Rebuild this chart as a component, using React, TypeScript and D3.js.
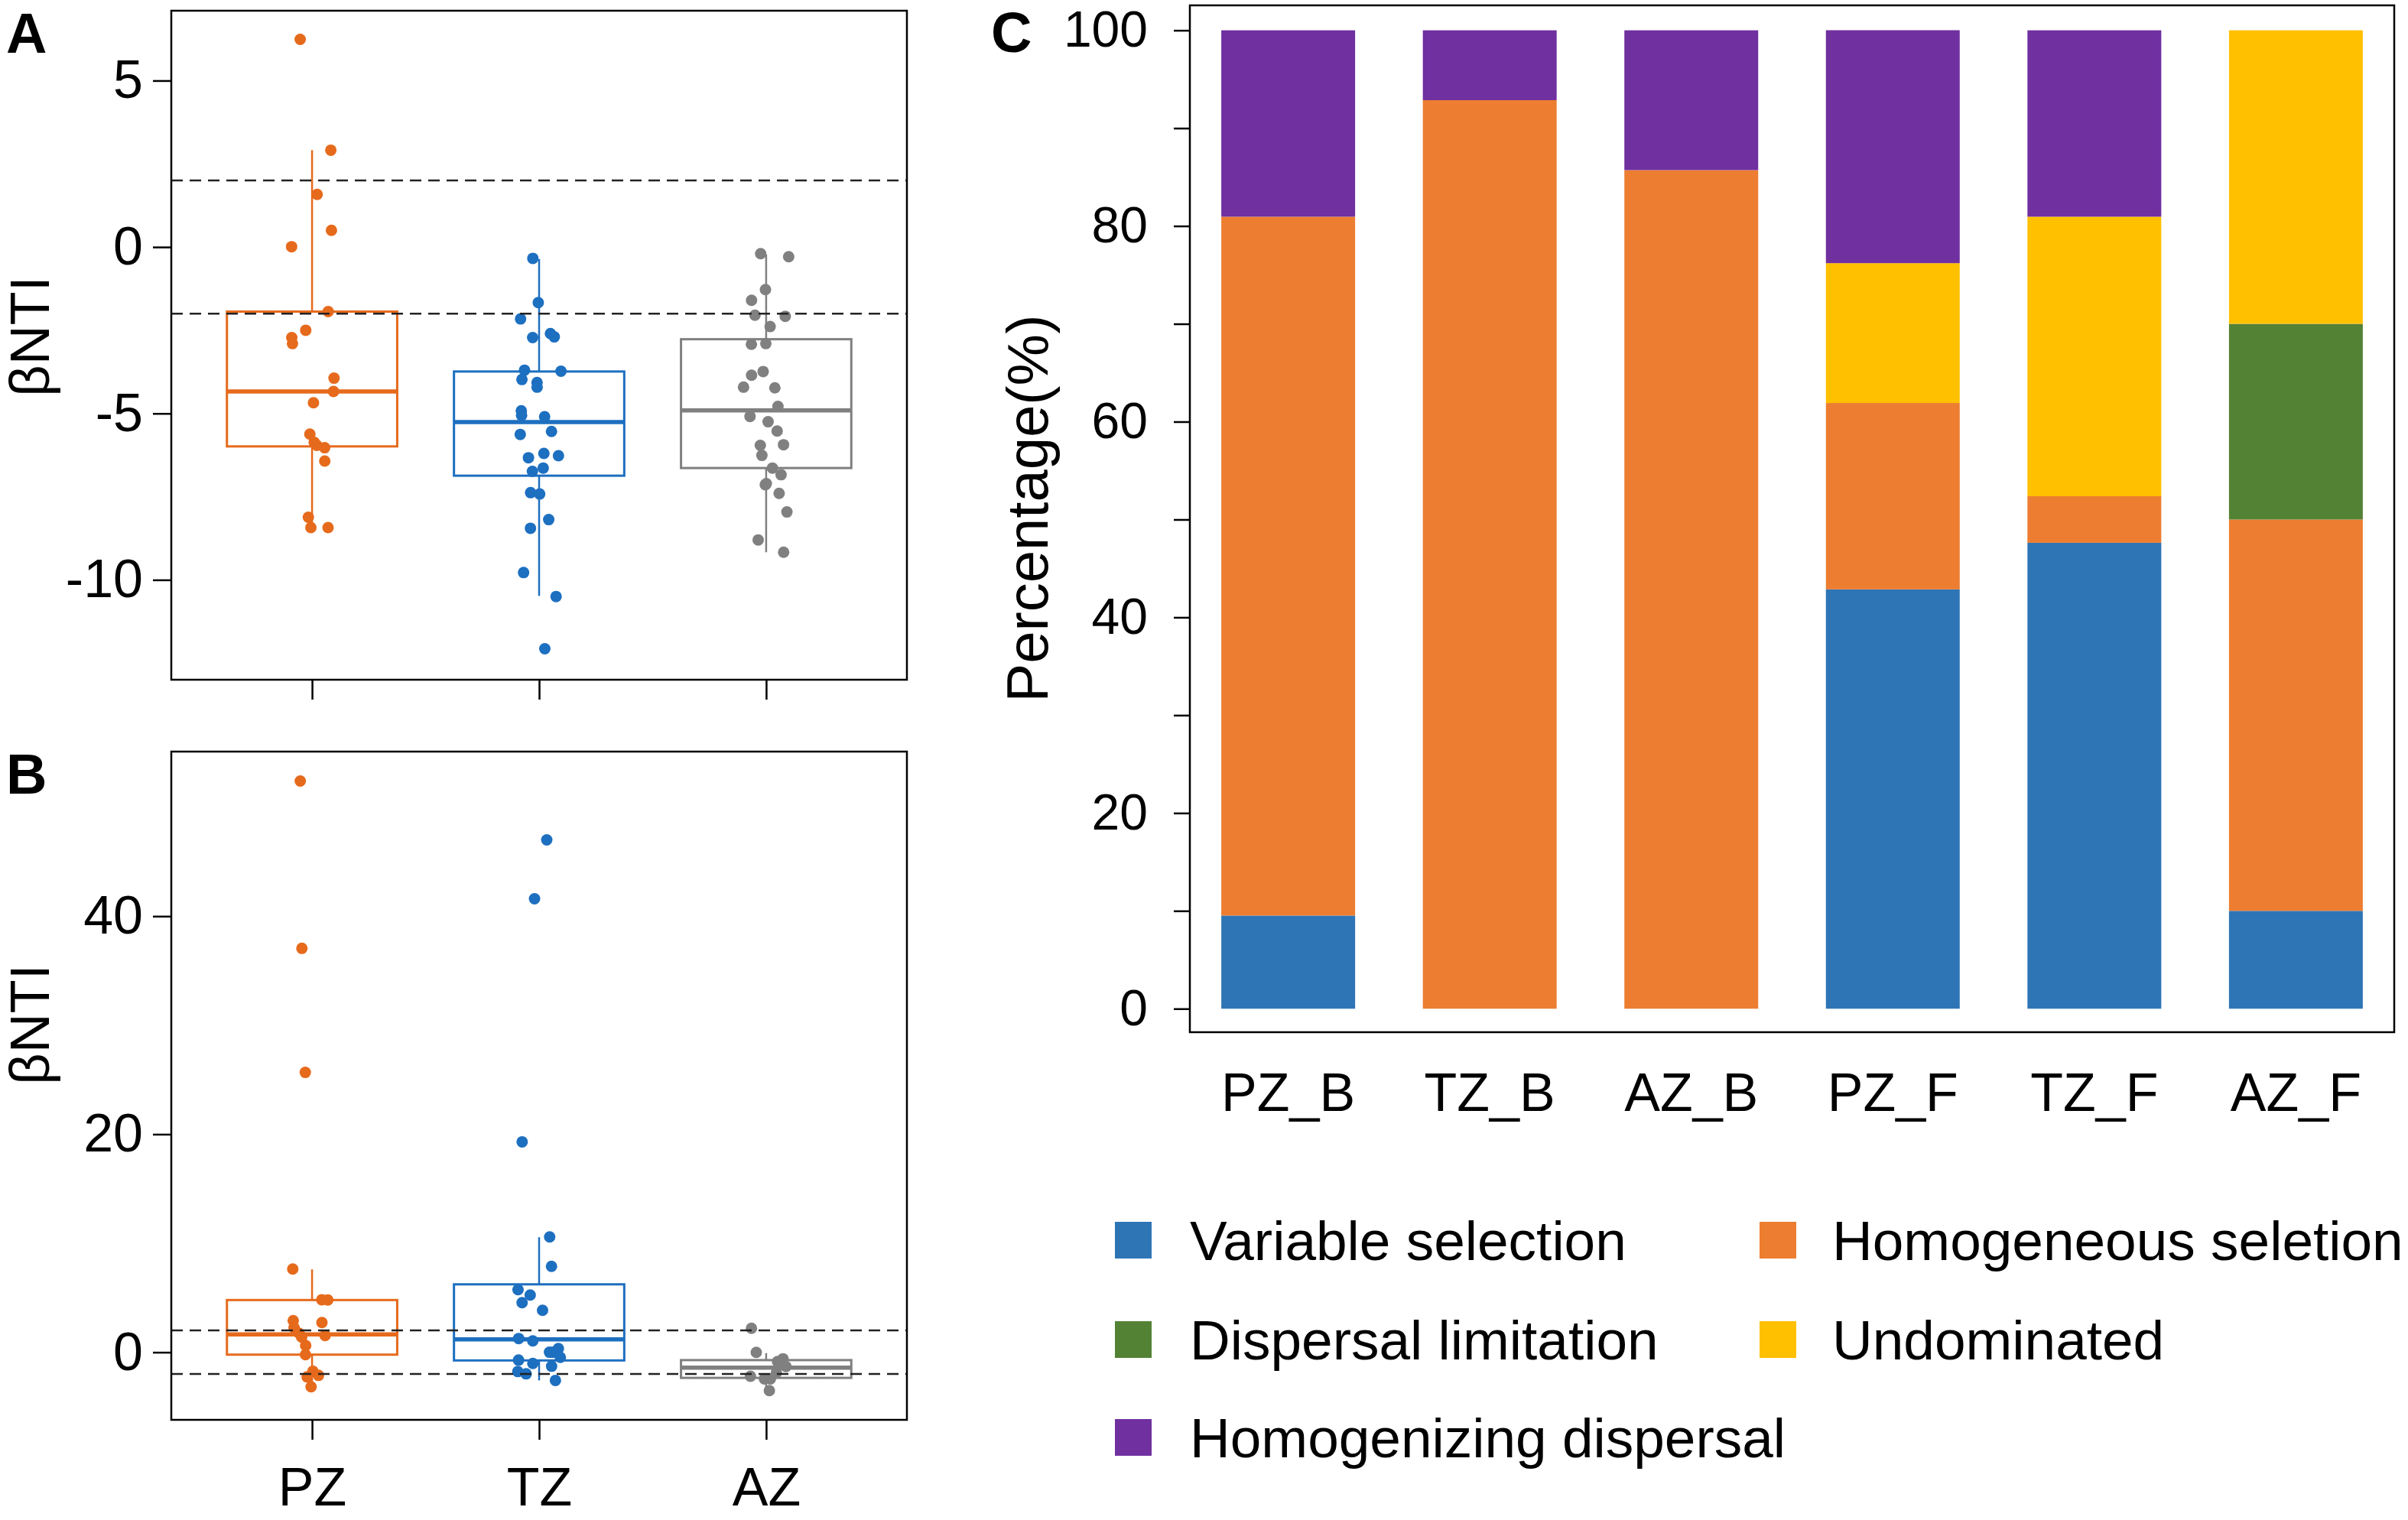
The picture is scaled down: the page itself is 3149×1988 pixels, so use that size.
import React, { useRef, useEffect } from "react";
import * as d3 from "d3";

const FONT = "'Liberation Sans', Arial, Helvetica, sans-serif";

// ---- panels A / B : betaNTI per zone ----
const zones = ["PZ", "TZ", "AZ"];
const zoneColors = ["#E66A1C", "#1D6FC0", "#808080"];

// A (bacteria) observations
const bacteriaPZ = [6.24, 2.91, 1.58, 0.5, 0.01, -1.94, -2.5, -2.72, -2.9, -3.94, -4.34, -4.68, -5.62, -5.87, -5.96, -6.03, -6.43, -8.12, -8.43, -8.43];
const bacteriaTZ = [-0.34, -1.67, -2.16, -2.6, -2.7, -2.72, -3.7, -3.73, -3.98, -4.07, -4.21, -4.92, -5.06, -5.1, -5.54, -5.63, -6.2, -6.27, -6.33, -6.64, -6.74, -7.38, -7.42, -8.19, -8.45, -9.78, -10.5, -12.07];
const bacteriaAZ = [-0.2, -0.29, -1.28, -1.6, -2.05, -2.08, -2.39, -2.9, -2.92, -3.74, -3.85, -4.21, -4.23, -4.79, -5.09, -5.25, -5.53, -5.94, -5.96, -6.26, -6.64, -6.84, -7.11, -7.14, -7.4, -7.96, -8.8, -9.17];
// box stats: [whisker low, Q1, median, Q3, whisker high]
const bacteriaBoxes = [
  [-8.43, -5.99, -4.34, -1.94, 2.91],
  [-10.48, -6.87, -5.26, -3.74, -0.36],
  [-9.17, -6.64, -4.91, -2.77, -0.22],
];

// B (fungi) observations
const fungiPZ = [52.4, 37.05, 25.67, 7.63, 4.82, 4.8, 2.9, 2.72, 2.25, 1.74, 1.54, 1.4, 0.62, -0.22, -1.74, -2.12, -2.26, -3.17];
const fungiTZ = [47.0, 41.6, 19.3, 10.58, 7.88, 5.74, 5.25, 4.55, 3.85, 1.26, 1.04, 0.34, 0.0, 0.0, -0.47, -0.72, -1.03, -1.28, -1.77, -1.98, -2.58];
const fungiAZ = [2.2, -0.01, -0.6, -0.85, -1.31, -1.88, -2.2, -2.44, -2.44, -3.52];
const fungiBoxes = [
  [-3.2, -0.22, 1.64, 4.79, 7.6],
  [-2.58, -0.75, 1.18, 6.23, 10.55],
  [-3.52, -2.35, -1.42, -0.72, -0.08],
];

const thresholds = [-2, 2];

// ---- panel C : process percentages ----
const groups = ["PZ_B", "TZ_B", "AZ_B", "PZ_F", "TZ_F", "AZ_F"];
const processes = ["Variable selection", "Homogeneous seletion", "Dispersal limitation", "Undominated", "Homogenizing dispersal"];
const processColors = ["#2E75B6", "#ED7D31", "#548235", "#FFC000", "#7030A0"];
const variableSelection = [9.52, 0, 0, 42.86, 47.62, 10];
const homogeneousSelection = [71.43, 92.86, 85.71, 19.05, 4.76, 40];
const dispersalLimitation = [0, 0, 0, 0, 0, 20];
const undominated = [0, 0, 0, 14.29, 28.57, 30];
const homogenizingDispersal = [19.05, 7.14, 14.29, 23.81, 19.05, 0];

type Sel = d3.Selection<SVGSVGElement, unknown, null, undefined>;

function drawBoxPanel(
  svg: Sel,
  o: {
    left: number; right: number; top: number; bottom: number;
    domain: [number, number]; ticks: number[];
    points: number[][]; boxes: number[][];
    letter: string; letterY: number; titleY: number;
    showXLabels: boolean; seed: number;
  }
) {
  const x = d3.scalePoint<string>().domain(zones).range([o.left, o.right]).padding(0.62);
  const y = d3.scaleLinear().domain(o.domain).range([o.bottom, o.top]);
  const g = svg.append("g");
  const bw = x.step() * 0.75;
  const rand = d3.randomUniform.source(d3.randomLcg(o.seed))(-1, 1);

  // y axis (plain hyphen for negatives, as in the figure)
  const ya = g
    .append("g")
    .attr("transform", `translate(${o.left},0)`)
    .call(
      d3.axisLeft(y).tickValues(o.ticks).tickSize(24).tickPadding(13).tickSizeOuter(0)
        .tickFormat((d) => String(d))
    );
  ya.select(".domain").remove();
  ya.selectAll("line").attr("stroke", "#000").attr("stroke-width", 2.5);
  ya.selectAll("text").attr("font-size", 70).attr("font-family", FONT).attr("fill", "#000");

  // x axis
  const xa = g
    .append("g")
    .attr("transform", `translate(0,${o.bottom})`)
    .call(
      d3.axisBottom(x).tickSize(26).tickPadding(36).tickSizeOuter(0)
        .tickFormat((d) => (o.showXLabels ? d : ""))
    );
  xa.select(".domain").remove();
  xa.selectAll("line").attr("stroke", "#000").attr("stroke-width", 2.5);
  xa.selectAll("text").attr("font-size", 70).attr("font-family", FONT).attr("fill", "#000");

  zones.forEach((z, i) => {
    const cx = x(z)!;
    const [lo, q1, med, q3, hi] = o.boxes[i];
    const c = zoneColors[i];

    g.append("line")
      .attr("x1", cx).attr("x2", cx)
      .attr("y1", y(hi)).attr("y2", y(q3))
      .attr("stroke", c).attr("stroke-width", 2.5);
    g.append("line")
      .attr("x1", cx).attr("x2", cx)
      .attr("y1", y(q1)).attr("y2", y(lo))
      .attr("stroke", c).attr("stroke-width", 2.5);
    g.append("rect")
      .attr("x", cx - bw / 2)
      .attr("y", y(q3))
      .attr("width", bw)
      .attr("height", y(q1) - y(q3))
      .attr("fill", "none")
      .attr("stroke", c)
      .attr("stroke-width", 3);
    g.append("line")
      .attr("x1", cx - bw / 2).attr("x2", cx + bw / 2)
      .attr("y1", y(med)).attr("y2", y(med))
      .attr("stroke", c).attr("stroke-width", 5.5);

    // jittered observations
    g.append("g")
      .selectAll("circle")
      .data(o.points[i])
      .join("circle")
      .attr("cx", () => cx + rand() * x.step() * 0.1)
      .attr("cy", (d) => y(d))
      .attr("r", 7.5)
      .attr("fill", c);
  });

  // threshold lines
  g.append("g")
    .selectAll("line")
    .data(thresholds)
    .join("line")
    .attr("x1", o.left).attr("x2", o.right)
    .attr("y1", (d) => y(d)).attr("y2", (d) => y(d))
    .attr("stroke", "#222")
    .attr("stroke-width", 2.5)
    .attr("stroke-dasharray", "15,9");

  // frame
  g.append("rect")
    .attr("x", o.left).attr("y", o.top)
    .attr("width", o.right - o.left).attr("height", o.bottom - o.top)
    .attr("fill", "none").attr("stroke", "#000").attr("stroke-width", 2.5);

  g.append("text")
    .attr("x", 8).attr("y", o.letterY)
    .attr("font-family", FONT).attr("font-weight", "bold").attr("font-size", 74)
    .text(o.letter);

  g.append("text")
    .attr("transform", `translate(64,${o.titleY}) rotate(-90)`)
    .attr("text-anchor", "middle")
    .attr("font-family", FONT).attr("font-size", 72)
    .text("βNTI");
}

function drawStackPanel(svg: Sel) {
  const left = 1556, right = 3131, top = 7, bottom = 1350;
  const x = d3.scaleBand<string>().domain(groups).range([left, right]).paddingInner(0.336).paddingOuter(0.156);
  const y = d3.scaleLinear().domain([-2.4, 102.55]).range([bottom, top]);
  const g = svg.append("g");

  const seriesValues = [variableSelection, homogeneousSelection, dispersalLimitation, undominated, homogenizingDispersal];
  const rows = groups.map((grp, i) => {
    const r: Record<string, any> = { group: grp };
    processes.forEach((p, k) => (r[p] = seriesValues[k][i]));
    return r;
  });
  const layers = d3.stack<Record<string, any>>().keys(processes)(rows);

  layers.forEach((layer, k) => {
    g.append("g")
      .selectAll("rect")
      .data(layer.filter((d) => d[1] - d[0] > 0))
      .join("rect")
      .attr("x", (d) => x(d.data.group)!)
      .attr("y", (d) => y(d[1]))
      .attr("width", x.bandwidth())
      .attr("height", (d) => y(d[0]) - y(d[1]))
      .attr("fill", processColors[k]);
  });

  const ya = g
    .append("g")
    .attr("transform", `translate(${left},0)`)
    .call(
      d3.axisLeft(y).tickValues(d3.range(0, 101, 10)).tickSize(21).tickPadding(34).tickSizeOuter(0)
        .tickFormat((d) => (+d % 20 === 0 ? String(d) : ""))
    );
  ya.select(".domain").remove();
  ya.selectAll("line").attr("stroke", "#000").attr("stroke-width", 2.5);
  ya.selectAll("text").attr("font-size", 66).attr("font-family", FONT).attr("fill", "#000");

  const xa = g
    .append("g")
    .attr("transform", `translate(0,${bottom})`)
    .call(d3.axisBottom(x).tickSize(0).tickPadding(53));
  xa.select(".domain").remove();
  xa.selectAll("text").attr("font-size", 70).attr("font-family", FONT).attr("fill", "#000");

  g.append("rect")
    .attr("x", left).attr("y", top)
    .attr("width", right - left).attr("height", bottom - top)
    .attr("fill", "none").attr("stroke", "#000").attr("stroke-width", 2.5);

  g.append("text")
    .attr("x", 1296).attr("y", 68)
    .attr("font-family", FONT).attr("font-weight", "bold").attr("font-size", 74)
    .text("C");

  g.append("text")
    .attr("transform", `translate(1370,665) rotate(-90)`)
    .attr("text-anchor", "middle")
    .attr("font-family", FONT).attr("font-size", 76)
    .text("Percentage(%)");

  // legend, two columns filled row by row
  const swatchX = [1458, 2301];
  const textX = [1556, 2396];
  const rowY = [1622, 1752, 1880];
  const lg = g.append("g");
  processes.forEach((p, i) => {
    const col = i % 2;
    const row = Math.floor(i / 2);
    lg.append("rect")
      .attr("x", swatchX[col]).attr("y", rowY[row] - 24)
      .attr("width", 48).attr("height", 48)
      .attr("fill", processColors[i]);
    lg.append("text")
      .attr("x", textX[col]).attr("y", rowY[row])
      .attr("dy", "0.35em")
      .attr("font-family", FONT).attr("font-size", 73)
      .text(p);
  });
}

export default function App() {
  const ref = useRef<SVGSVGElement | null>(null);

  useEffect(() => {
    const svg = d3.select(ref.current!) as Sel;
    svg.selectAll("*").remove();

    drawBoxPanel(svg, {
      left: 224, right: 1186, top: 14, bottom: 889,
      domain: [-13, 7.1], ticks: [-10, -5, 0, 5],
      points: [bacteriaPZ, bacteriaTZ, bacteriaAZ], boxes: bacteriaBoxes,
      letter: "A", letterY: 69, titleY: 440, showXLabels: false, seed: 7,
    });
    drawBoxPanel(svg, {
      left: 224, right: 1186, top: 983, bottom: 1857,
      domain: [-6.2, 55.1], ticks: [0, 20, 40],
      points: [fungiPZ, fungiTZ, fungiAZ], boxes: fungiBoxes,
      letter: "B", letterY: 1038, titleY: 1340, showXLabels: true, seed: 11,
    });
    drawStackPanel(svg);
  }, []);

  return (
    <svg
      ref={ref}
      width={3149}
      height={1988}
      style={{ position: "absolute", left: 0, top: 0, background: "#fff" }}
    />
  );
}
